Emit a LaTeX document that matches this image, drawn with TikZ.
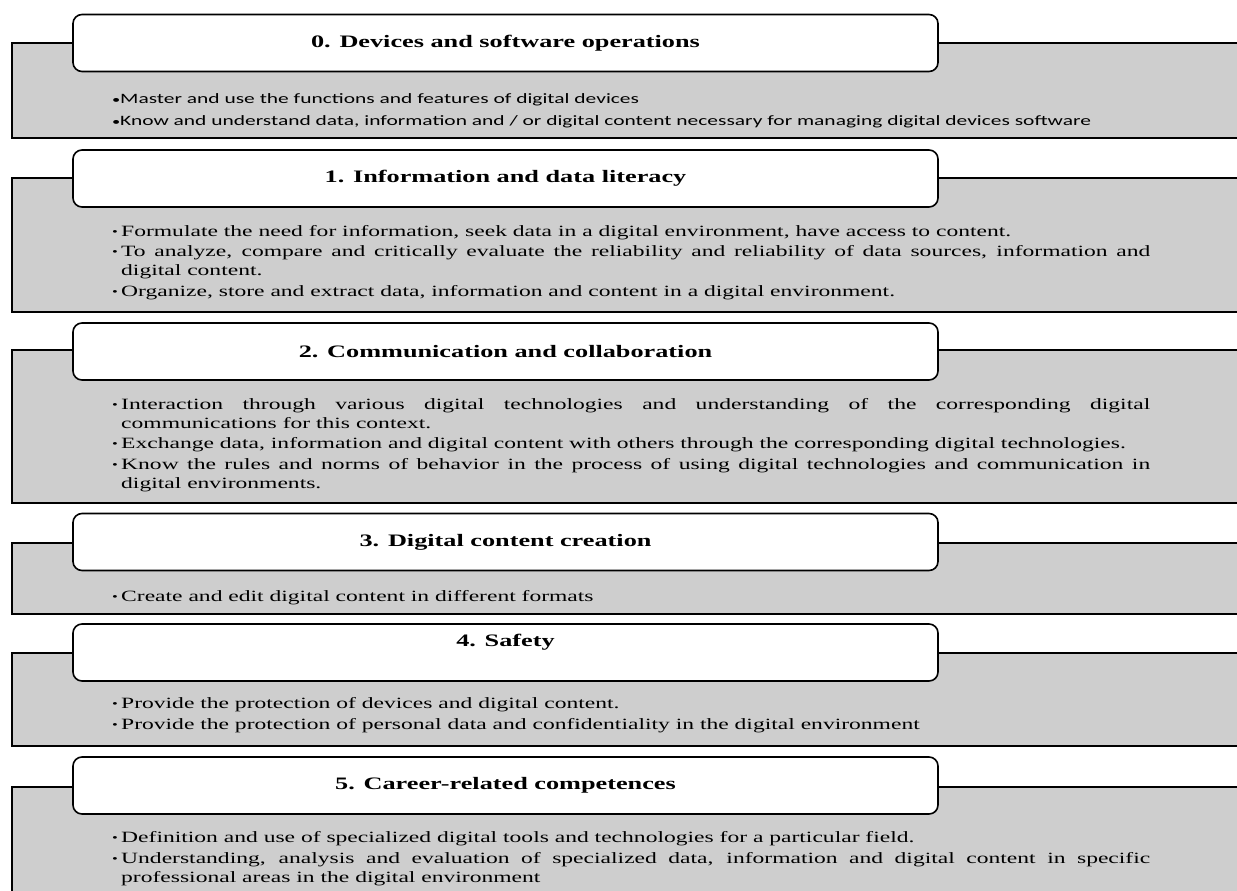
\documentclass[tikz,border=0pt]{standalone}
\usepackage{fontspec}
\usepackage{tikz}
\usetikzlibrary{positioning}
\setmainfont{Liberation Serif}[FakeStretch=1.5]
\newfontfamily\calibfont{Carlito}[FakeStretch=1.5]
\definecolor{panelgray}{RGB}{206, 206, 206}
\newcommand{\itm}{\par\noindent\hangindent=9pt\hangafter=1\strut\makebox[9pt][l]{\raisebox{1pt}{\fontsize{11}{11}\selectfont\textbullet}}}
\newcommand{\itmc}{\par\noindent\hangindent=8pt\hangafter=1\strut\makebox[8pt][l]{\fontsize{11}{11}\selectfont\textbullet}}

\begin{document}
\begin{tikzpicture}[x=1pt, y=-1pt,
    panel/.style={fill=panelgray, draw=black, line width=1.6pt},
    tab/.style={rectangle, rounded corners=9pt, fill=white, draw=black, line width=1.6pt,
                minimum width=865pt, minimum height=57pt, inner sep=0pt,
                font=\fontsize{17.5}{20}\selectfont\bfseries},
    items/.style={anchor=north west, inner sep=0pt, text width=1038pt, align=justify,
                font=\fontsize{15.7}{18.8}\selectfont\setlength{\parskip}{1.8pt}},
    citems/.style={items, font=\calibfont\fontsize{14.3}{22}\selectfont}]
    \useasboundingbox (0,0) rectangle (1237,891);

    % 0
    \draw[panel] (12,43) rectangle (1260,138);
    \node[tab] (tab0) at (505.5,43) {0. Devices and software operations};
    \node[citems] (items0) at (112,81) {
        \itmc Master and use the functions and features of digital devices
        \itmc Know and understand data, information and / or digital content necessary for managing digital devices software\par};

    % 1
    \draw[panel] (12,178) rectangle (1260,312);
    \node[tab] (tab1) at (505.5,178.5) {1. Information and data literacy};
    \node[items] (items1) at (112,215.5) {
        \itm Formulate the need for information, seek data in a digital environment, have access to content.
        \itm To analyze, compare and critically evaluate the reliability and reliability of data sources, information and\linebreak digital content.
        \itm Organize, store and extract data, information and content in a digital environment.\par};

    % 2
    \draw[panel] (12,350) rectangle (1260,503);
    \node[tab] (tab2) at (505.5,351.5) {2. Communication and collaboration};
    \node[items] (items2) at (112,388.5) {
        \itm Interaction through various digital technologies and understanding of the corresponding digital\linebreak communications for this context.
        \itm Exchange data, information and digital content with others through the corresponding digital technologies.
        \itm Know the rules and norms of behavior in the process of using digital technologies and communication in\linebreak digital environments.\par};

    % 3
    \draw[panel] (12,543) rectangle (1260,614);
    \node[tab] (tab3) at (505.5,542) {3. Digital content creation};
    \node[items] (items3) at (112,581) {
        \itm Create and edit digital content in different formats\par};

    % 4
    \draw[panel] (12,653) rectangle (1260,746);
    \node[tab, text depth=24pt] (tab4) at (505.5,652.5) {4. Safety};
    \node[items] (items4) at (112,688) {
        \itm Provide the protection of devices and digital content.
        \itm Provide the protection of personal data and confidentiality in the digital environment\par};

    % 5
    \draw[panel] (12,787) rectangle (1260,910);
    \node[tab] (tab5) at (505.5,785.5) {5. Career-related competences};
    \node[items] (items5) at (112,822) {
        \itm Definition and use of specialized digital tools and technologies for a particular field.
        \itm Understanding, analysis and evaluation of specialized data, information and digital content in specific\linebreak professional areas in the digital environment\par};
\end{tikzpicture}
\end{document}
